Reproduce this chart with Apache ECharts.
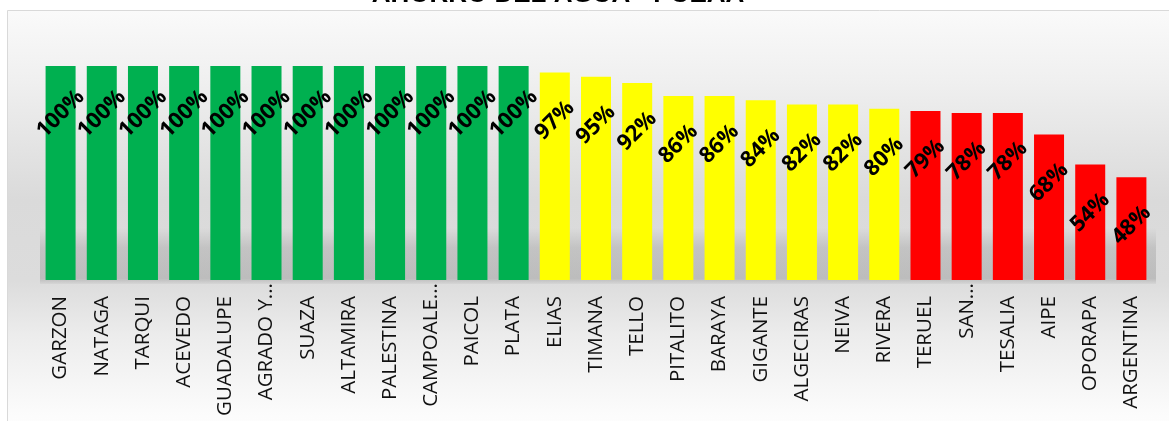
<!DOCTYPE html>
<html>
<head>
<meta charset="utf-8">
<script src="https://cdn.jsdelivr.net/npm/echarts@6/dist/echarts.min.js"></script>
<style>html,body{margin:0;padding:0;background:#fff}#c{width:1169px;height:421px}</style>
</head>
<body>
<div id="c"></div>
<script>
const categories = ["GARZON","NATAGA","TARQUI","ACEVEDO","GUADALUPE","AGRADO Y...","SUAZA","ALTAMIRA","PALESTINA","CAMPOALE...","PAICOL","PLATA","ELIAS","TIMANA","TELLO","PITALITO","BARAYA","GIGANTE","ALGECIRAS","NEIVA","RIVERA","TERUEL","SAN...","TESALIA","AIPE","OPORAPA","ARGENTINA"];
const values = [1,1,1,1,1,1,1,1,1,1,1,1,0.97,0.95,0.92,0.86,0.86,0.84,0.82,0.82,0.80,0.79,0.78,0.78,0.68,0.54,0.48];
const colorGroups = ["green","green","green","green","green","green","green","green","green","green","green","green","yellow","yellow","yellow","yellow","yellow","yellow","yellow","yellow","yellow","red","red","red","red","red","red"];
const palette = {green:"#00B050", yellow:"#FFFF00", red:"#FF0000"};
const titleText = "AHORRO DEL AGUA - PUEAA";

const chart = echarts.init(document.getElementById('c'), null, {renderer:'canvas'});
chart.setOption({
  animation:false,
  backgroundColor:'#ffffff',
  title:{text:titleText,left:553,textAlign:'center',top:-23,textStyle:{fontFamily:'Liberation Sans',fontWeight:'bold',fontSize:26,color:'#000'}},
  graphic:[
    {type:'rect',z:-100,shape:{x:7.5,y:10.5,width:1200,height:450},
     style:{stroke:'#d9d9d9',lineWidth:1,
       fill:new echarts.graphic.LinearGradient(0,0,0,1,[
         {offset:0,color:'#fafafa'},{offset:0.15,color:'#f0f0f0'},{offset:0.42,color:'#dadada'},
         {offset:0.6,color:'#dcdcdc'},{offset:0.72,color:'#ececec'},{offset:0.9,color:'#fcfcfc'},{offset:1,color:'#ffffff'}])}},
    {type:'rect',z:-90,shape:{x:40,y:228,width:1116,height:56},
     style:{fill:new echarts.graphic.LinearGradient(0,0,0,1,[
       {offset:0,color:'rgba(150,150,150,0)'},{offset:0.35,color:'rgba(150,150,150,0.35)'},
       {offset:0.9,color:'rgba(150,150,150,0.45)'},{offset:1,color:'rgba(150,150,150,0.1)'}])}}
  ],
  grid:{left:40,right:17,top:66,bottom:141,containLabel:false,outerBoundsMode:'none'},
  xAxis:{type:'category',
    data:categories.map(c=>c.endsWith('...')?{value:c,textStyle:{padding:[0,0,0,0]}}:{value:c,textStyle:{padding:[0,13,0,0]}}),
    axisLine:{show:false},axisTick:{show:false},
    axisLabel:{rotate:90,interval:0,margin:3,fontFamily:'Open Sans',fontSize:20.5,color:'#111'}},
  yAxis:{type:'value',min:0,max:1,show:false,splitLine:{show:false}},
  series:[{type:'bar',barWidth:30,
    data:values.map((v,i)=>({value:v,itemStyle:{color:palette[colorGroups[i]]}})),
    label:{show:true,position:['50%',48],align:'center',verticalAlign:'middle',rotate:45,
      formatter:p=>Math.round(p.value*100)+'%',
      fontFamily:'Open Sans',fontWeight:'bold',fontSize:22,color:'#000'}
  }]
});
</script>
</body>
</html>
